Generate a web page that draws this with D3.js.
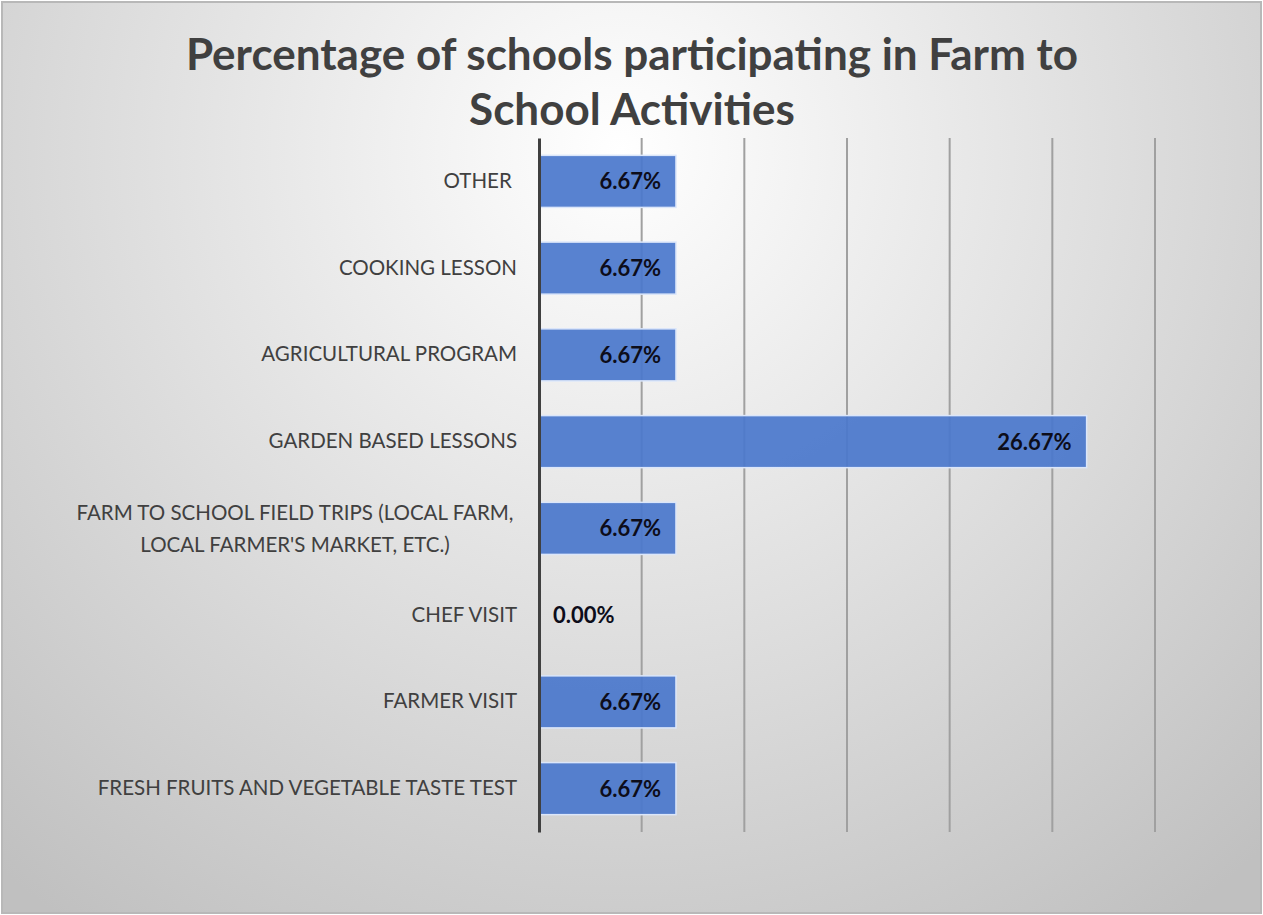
<!DOCTYPE html>
<html lang="en">
<head>
<meta charset="utf-8">
<title>Farm to School Activities</title>
<script src="https://d3js.org/d3.v7.min.js"></script>
<style>
  body { margin: 0; background: #fff; }
  text { font-family: Lato, "Open Sans", sans-serif; }
</style>
</head>
<body>
<script>
  // chart data
  var categories = [
    "OTHER ",
    "COOKING LESSON",
    "AGRICULTURAL PROGRAM",
    "GARDEN BASED LESSONS",
    "FARM TO SCHOOL FIELD TRIPS (LOCAL FARM,|LOCAL FARMER'S MARKET, ETC.)",
    "CHEF VISIT",
    "FARMER VISIT",
    "FRESH FRUITS AND VEGETABLE TASTE TEST"
  ];
  var values = [6.67, 6.67, 6.67, 26.67, 6.67, 0.00, 6.67, 6.67];
  var gridTicks = [0, 5, 10, 15, 20, 25, 30];
  var titleLines = ["Percentage of schools participating in Farm to", "School Activities"];

  var width = 1263, height = 915;
  var margin = { top: 138, left: 539, right: 108, bottom: 83 };

  var svg = d3.select("body").append("svg")
    .attr("width", width)
    .attr("height", height);

  // radial background
  var defs = svg.append("defs");
  var grad = defs.append("radialGradient")
    .attr("id", "bg")
    .attr("gradientUnits", "userSpaceOnUse")
    .attr("cx", 620).attr("cy", 150).attr("r", 950);
  grad.append("stop").attr("offset", "0%").attr("stop-color", "#ffffff");
  grad.append("stop").attr("offset", "100%").attr("stop-color", "#c0c0c0");

  svg.append("rect")
    .attr("x", 2).attr("y", 2)
    .attr("width", width - 4).attr("height", height - 4)
    .attr("fill", "url(#bg)")
    .attr("stroke", "#b8b8b8")
    .attr("stroke-width", 2);

  var x = d3.scaleLinear()
    .domain([0, 30])
    .range([margin.left, width - margin.right]);

  var y = d3.scaleBand()
    .domain(categories)
    .range([margin.top, height - margin.bottom])
    .paddingInner(0.4)
    .paddingOuter(0.2);

  // title
  var title = svg.append("text")
    .attr("text-anchor", "middle")
    .attr("fill", "#404040")
    .style("font-weight", "bold")
    .style("font-size", "44px");
  title.selectAll("tspan")
    .data(titleLines)
    .enter().append("tspan")
    .attr("x", 632)
    .attr("y", function(d, i) { return 70 + i * 55; })
    .text(function(d) { return d; });

  // gridlines
  svg.append("g")
    .selectAll("line")
    .data(gridTicks.slice(1))
    .enter().append("line")
    .attr("x1", function(d) { return x(d); })
    .attr("x2", function(d) { return x(d); })
    .attr("y1", margin.top)
    .attr("y2", height - margin.bottom)
    .attr("stroke", "#a0a0a0")
    .attr("stroke-width", 2);

  // bars
  svg.append("g")
    .selectAll("rect")
    .data(values)
    .enter().append("rect")
    .attr("x", x(0))
    .attr("y", function(d, i) { return y(categories[i]); })
    .attr("width", function(d) { return x(d) - x(0); })
    .attr("height", y.bandwidth())
    .attr("fill", "#4a77cc")
    .attr("fill-opacity", 0.92)
    .attr("stroke", function(d) { return d > 0 ? "#dbe6fa" : "none"; })
    .attr("stroke-width", 1.5);

  // value labels
  svg.append("g")
    .selectAll("text")
    .data(values)
    .enter().append("text")
    .attr("x", function(d) { return d > 0 ? x(d) - 15 : x(0) + 14; })
    .attr("y", function(d, i) { return y(categories[i]) + y.bandwidth() / 2; })
    .attr("dy", "0.36em")
    .attr("text-anchor", function(d) { return d > 0 ? "end" : "start"; })
    .attr("fill", "#0d0d1a")
    .style("font-weight", "bold")
    .style("font-size", "22px")
    .text(function(d) { return d.toFixed(2) + "%"; });

  // category axis
  var yAxis = svg.append("g")
    .attr("transform", "translate(" + x(0) + ",0)")
    .call(d3.axisLeft(y).tickSize(0).tickPadding(22));
  yAxis.select(".domain")
    .attr("stroke", "#404040")
    .attr("stroke-width", 3);
  yAxis.selectAll("text")
    .attr("fill", "#404040")
    .style("font-size", "20.5px")
    .style("white-space", "pre")
    .each(function(d) {
      var parts = d.split("|");
      if (parts.length > 1) {
        var t = d3.select(this).text(null).attr("text-anchor", "middle").attr("dy", null);
        parts.forEach(function(p, i) {
          t.append("tspan")
            .attr("x", -244)
            .attr("dy", i === 0 ? "-0.42em" : "1.55em")
            .text(p);
        });
      }
    });
</script>
</body>
</html>
